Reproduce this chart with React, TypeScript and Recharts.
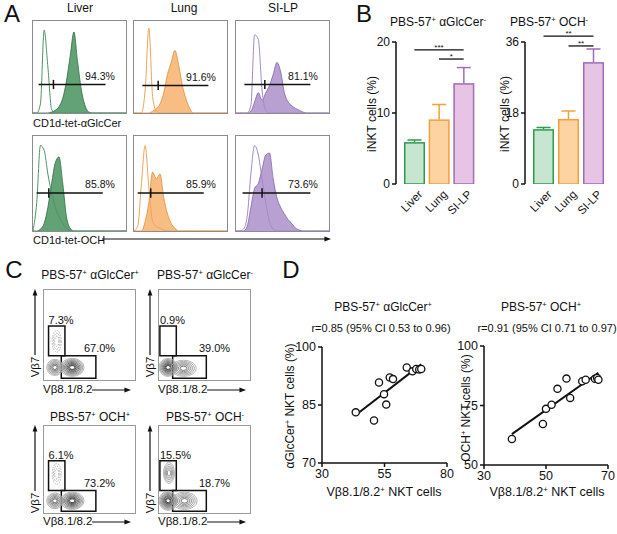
import React from 'react'
import {
  AreaChart, Area, BarChart, Bar, ScatterChart, Scatter, XAxis, YAxis,
  ReferenceLine, ReferenceDot, ReferenceArea,
} from 'recharts'

const FONT = '"Liberation Sans", Arial, Helvetica, sans-serif'

// ---------- A: tetramer histograms (x = fluorescence bin, y = % of max) ----------
const histBins = [0, 4, 8, 12, 16, 20, 24, 28, 32, 36, 40, 44, 48, 52, 56, 60, 64, 68, 72, 76, 80, 84, 88, 92, 96, 100]

const liverAgcOpen = [0, 0, 10, 90, 50, 4, 0, 0, 0, 0, 0, 0, 0, 0, 0, 0, 0, 0, 0, 0, 0, 0, 0, 0, 0, 0]
const liverAgcFill = [0, 0, 0, 0, 0, 1, 3, 7, 16, 35, 62, 88, 55, 25, 8, 1, 0, 0, 0, 0, 0, 0, 0, 0, 0, 0]
const lungAgcOpen = [0, 0, 0, 25, 92, 18, 2, 0, 0, 0, 0, 0, 0, 0, 0, 0, 0, 0, 0, 0, 0, 0, 0, 0, 0, 0]
const lungAgcFill = [0, 0, 0, 0, 0, 2, 5, 10, 22, 42, 55, 68, 52, 30, 15, 5, 0, 0, 0, 0, 0, 0, 0, 0, 0, 0]
const siAgcOpen = [0, 0, 0, 0, 8, 85, 80, 25, 3, 0, 0, 0, 0, 0, 0, 0, 0, 0, 0, 0, 0, 0, 0, 0, 0, 0]
const siAgcFill = [0, 0, 0, 0, 2, 12, 22, 14, 22, 30, 42, 55, 45, 22, 12, 8, 5, 3, 1, 0, 0, 0, 0, 0, 0, 0]

const liverOchOpen = [0, 30, 90, 85, 60, 40, 25, 15, 8, 3, 0, 0, 0, 0, 0, 0, 0, 0, 0, 0, 0, 0, 0, 0, 0, 0]
const liverOchFill = [0, 0, 2, 8, 25, 50, 72, 78, 50, 15, 3, 0, 0, 0, 0, 0, 0, 0, 0, 0, 0, 0, 0, 0, 0, 0]
const lungOchOpen = [0, 5, 50, 90, 45, 10, 5, 3, 1, 0, 0, 0, 0, 0, 0, 0, 0, 0, 0, 0, 0, 0, 0, 0, 0, 0]
const lungOchFill = [0, 0, 0, 10, 30, 62, 55, 60, 35, 18, 8, 3, 0, 0, 0, 0, 0, 0, 0, 0, 0, 0, 0, 0, 0, 0]
const siOchOpen = [0, 0, 2, 15, 60, 90, 80, 55, 30, 10, 2, 0, 0, 0, 0, 0, 0, 0, 0, 0, 0, 0, 0, 0, 0, 0]
const siOchFill = [0, 0, 0, 5, 25, 45, 50, 65, 80, 82, 55, 35, 25, 18, 12, 8, 3, 1, 0, 0, 0, 0, 0, 0, 0, 0]

// gate: [from, to, marker, level]
const agcGates = [[6, 78, 22, 31], [9, 80, 26, 30], [9, 80, 31, 31]]
const agcPct = ['94.3%', '91.6%', '81.1%']
const ochGates = [[4, 75, 17, 40], [4, 75, 18, 40], [7, 80, 28, 40]]
const ochPct = ['85.8%', '85.9%', '73.6%']

// ---------- B: bars ----------
const organs = ['Liver', 'Lung', 'SI-LP']
const agcNeg = [5.9, 9.1, 14.2]
const agcNegSem = [0.3, 2.1, 2.2]
const ochNeg = [13.9, 16.5, 30.9]
const ochNegSem = [0.4, 2.0, 3.3]

// ---------- C: Vb7 vs Vb8 contour populations (centre, spread, density) ----------
const contAgcPos = [
  { x: 14, y: 43, sx: 5, sy: 12, levels: 3, dens: 0.2, dotted: true },
  { x: 12, y: 14, sx: 9, sy: 9, levels: 6, dens: 0.6 },
  { x: 31, y: 14, sx: 13, sy: 10, levels: 8, dens: 1 },
]
const contAgcNeg = [
  { x: 10, y: 14, sx: 10, sy: 10, levels: 8, dens: 1 },
  { x: 27, y: 13, sx: 14, sy: 9, levels: 6, dens: 0.45 },
]
const contOchPos = [
  { x: 14, y: 45, sx: 5, sy: 12, levels: 3, dens: 0.2, dotted: true },
  { x: 12, y: 14, sx: 9, sy: 9, levels: 6, dens: 0.6 },
  { x: 31, y: 14, sx: 13, sy: 10, levels: 8, dens: 1 },
]
const contOchNeg = [
  { x: 11, y: 46, sx: 6, sy: 12, levels: 5, dens: 0.3 },
  { x: 10, y: 14, sx: 10, sy: 11, levels: 8, dens: 1 },
  { x: 28, y: 14, sx: 14, sy: 10, levels: 6, dens: 0.45 },
]
const cPctSmall = ['7.3%', '0.9%', '6.1%', '15.5%']
const cPctBig = ['67.0%', '39.0%', '73.2%', '18.7%']

// ---------- D: correlations ----------
const vb8AgcPos = [43.5, 50.8, 52.8, 54.8, 55.7, 57.1, 58.4, 63.9, 66.2, 67.7, 68.9, 69.7]
const agcPosPct = [83.1, 81.0, 90.8, 87.8, 85.1, 92.1, 91.7, 94.7, 93.7, 94.3, 94.2, 94.3]
const vb8OchPos = [39.0, 49.0, 50.0, 51.8, 53.7, 56.6, 57.8, 61.7, 62.8, 65.8, 66.5, 66.9]
const ochPosPct = [60.9, 67.2, 73.6, 75.3, 82.0, 86.3, 78.2, 85.2, 85.8, 86.2, 86.6, 85.8]

const colors = {
  Liver: { hist: '#62a275', histEdge: '#2f6b44', open: '#4f9467', bar: '#c6e6cf', barEdge: '#2e9a4e' },
  Lung: { hist: '#f8bd82', histEdge: '#e28a35', open: '#f0a458', bar: '#fdd3a2', barEdge: '#f2a03c' },
  'SI-LP': { hist: '#b8a0d3', histEdge: '#7e64a3', open: '#a38ac4', bar: '#e7c3e4', barEdge: '#9d6cba' },
} as any

const Sup = ({ c }: { c: string }) => (
  <span style={{ fontSize: '0.62em', position: 'relative', top: '-0.55em' }}>{c}</span>
)

function T({ x, y, size = 12, children, anchor = 'middle', rot = 0 }: any) {
  const tx = anchor === 'middle' ? '-50%' : anchor === 'end' ? '-100%' : '0'
  return (
    <div style={{
      position: 'absolute', left: x, top: y, transform: `translate(${tx},-50%) rotate(${rot}deg)`,
      fontSize: size, whiteSpace: 'nowrap', lineHeight: 1, color: '#111',
    }}>{children}</div>
  )
}

function Arrow({ x1, y1, x2, y2 }: any) {
  const left = Math.min(x1, x2) - 6, top = Math.min(y1, y2) - 6
  const w = Math.abs(x2 - x1) + 12, h = Math.abs(y2 - y1) + 12
  const ang = Math.atan2(y2 - y1, x2 - x1)
  const hx = x2 - left, hy = y2 - top
  const p = (a: number) => `${hx - 7 * Math.cos(ang + a)},${hy - 7 * Math.sin(ang + a)}`
  return (
    <svg style={{ position: 'absolute', left, top }} width={w} height={h}>
      <line x1={x1 - left} y1={y1 - top} x2={hx - 5 * Math.cos(ang)} y2={hy - 5 * Math.sin(ang)} stroke="#111" strokeWidth={1.2} />
      <polygon points={`${hx},${hy} ${p(0.35)} ${p(-0.35)}`} fill="#111" />
    </svg>
  )
}

function Histo({ left, top, w, h, organ, open, filled, gate, pct }: any) {
  const c = colors[organ]
  const data = histBins.map((x, i) => ({ x, open: open[i], filled: filled[i] }))
  const [g0, g1, gm, gy] = gate
  return (
    <div style={{ position: 'absolute', left, top, width: w, height: h, border: '1px solid #8c8c8c', boxSizing: 'border-box' }}>
      <AreaChart width={w - 2} height={h - 2} data={data} margin={{ top: 0, right: 0, bottom: 0, left: 0 }}>
        <XAxis dataKey="x" type="number" domain={[0, 100]} hide />
        <YAxis type="number" domain={[0, 100]} hide allowDataOverflow />
        <Area type="monotone" dataKey="filled" stroke={c.histEdge} strokeWidth={0.8} fill={c.hist} fillOpacity={1} isAnimationActive={false} />
        <Area type="monotone" dataKey="open" stroke={c.open} strokeWidth={1} fill="none" fillOpacity={0} isAnimationActive={false} />
        <ReferenceLine segment={[{ x: g0, y: gy }, { x: g1, y: gy }]} stroke="#111" strokeWidth={1.5} />
        <ReferenceLine segment={[{ x: gm, y: gy - 5 }, { x: gm, y: gy + 5 }]} stroke="#111" strokeWidth={1.5} />
        <ReferenceDot x={72} y={gy + 9} r={0} stroke="none" fill="none"
          label={{ value: pct, position: 'center', fontSize: 10.5, fill: '#111', fontFamily: FONT }} />
      </AreaChart>
    </div>
  )
}

function BarWithErr(props: any) {
  const { x, y, width, height, payload } = props
  const c = colors[payload.name]
  const ppu = height / payload.v
  const top = y - payload.sem * ppu
  const cx = x + width / 2
  return (
    <g>
      <line x1={cx} x2={cx} y1={y} y2={top} stroke={c.barEdge} strokeWidth={1.5} />
      <line x1={cx - 7} x2={cx + 7} y1={top} y2={top} stroke={c.barEdge} strokeWidth={1.5} />
      <rect x={x + 0.75} y={y + 0.75} width={width - 1.5} height={Math.max(height - 0.75, 0)} fill={c.bar} stroke={c.barEdge} strokeWidth={1.5} />
    </g>
  )
}

const SlantTick = (props: any) => {
  const { x, y, payload } = props
  const ax = x + 9, ay = y + 9
  return (
    <text x={ax} y={ay} textAnchor="end" transform={`rotate(-45 ${ax} ${ay})`} fontSize={11.5} fill="#111" fontFamily={FONT}>
      {payload.value}
    </text>
  )
}

function BarPanel({ left, w, vals, sems, max, sig }: any) {
  const data = organs.map((name, i) => ({ name, v: vals[i], sem: sems[i] }))
  return (
    <div style={{ position: 'absolute', left, top: 0 }}>
      <BarChart width={w} height={230} data={data} margin={{ top: 42, right: w === 135 ? 7 : 9, bottom: 6, left: 0 }} barCategoryGap={2}>
        <XAxis dataKey="name" axisLine={false} tickLine={false} tickSize={0} height={40} interval={0} tick={<SlantTick />} padding={{ left: 6, right: 2 }} />
        <YAxis width={w === 135 ? 46 : 45} domain={[0, max]} ticks={[0, max / 2, max]} tickSize={4}
          axisLine={{ stroke: '#111', strokeWidth: 1.5 }} tickLine={{ stroke: '#111', strokeWidth: 1.5 }}
          tick={{ fontSize: 12, fill: '#111', fontFamily: FONT }} allowDataOverflow />
        <Bar dataKey="v" shape={<BarWithErr />} isAnimationActive={false} />
        {sig.map((s: any, i: number) => (
          <ReferenceLine key={i} segment={[{ x: s.from, y: s.y }, { x: 'SI-LP', y: s.y }]} stroke="#111" strokeWidth={1.3} ifOverflow="visible"
            label={{ value: s.stars, position: 'top', fontSize: 8, fill: '#111', offset: 0 }} />
        ))}
      </BarChart>
    </div>
  )
}

function ContourShape(pxX: number, pxY: number) {
  return (p: any) => {
    const { cx, cy, payload } = p
    const rings = []
    for (let i = 0; i < payload.levels; i++) {
      const f = 1 - i / (payload.levels + 0.8)
      const g = Math.round(175 - (i / payload.levels) * 140 * payload.dens)
      rings.push(
        <ellipse key={i} cx={cx} cy={cy} rx={payload.sx * pxX * f} ry={payload.sy * pxY * f}
          fill={payload.dotted ? 'none' : `rgba(60,60,60,${0.05 * payload.dens})`}
          stroke={`rgb(${g},${g},${g})`} strokeWidth={0.9}
          strokeDasharray={payload.dotted ? '1.5 1.2' : undefined} />
      )
    }
    if (!payload.dotted) {
      rings.push(<ellipse key="core" cx={cx} cy={cy} rx={payload.sx * pxX * 0.18} ry={payload.sy * pxY * 0.14} fill="#fff" stroke="none" />)
    }
    return <g>{rings}</g>
  }
}

function ContourPlot({ left, top, h, pops, small, big, smallPct, bigPct }: any) {
  const w = 93
  const pw = w - 2, ph = h - 2
  return (
    <div style={{ position: 'absolute', left, top, width: w, height: h, border: '1px solid #9a9a9a', boxSizing: 'border-box' }}>
      <ScatterChart width={pw} height={ph} margin={{ top: 0, right: 0, bottom: 0, left: 0 }}>
        <XAxis dataKey="x" type="number" domain={[0, 100]} hide />
        <YAxis dataKey="y" type="number" domain={[0, 100]} hide />
        <Scatter data={pops} shape={ContourShape(pw / 100, ph / 100)} isAnimationActive={false} />
        <ReferenceArea x1={small[0]} x2={small[1]} y1={small[2]} y2={small[3]} stroke="#111" strokeWidth={1.5} fill="none" fillOpacity={0} />
        <ReferenceArea x1={big[0]} x2={big[1]} y1={big[2]} y2={big[3]} stroke="#111" strokeWidth={1.5} fill="none" fillOpacity={0} />
        <ReferenceDot x={small[0]} y={small[3] + 7} r={0} stroke="none" fill="none"
          label={{ value: smallPct, position: 'right', offset: 0, fontSize: 11, fill: '#111', fontFamily: FONT }} />
        <ReferenceDot x={61} y={big[3] + 8} r={0} stroke="none" fill="none"
          label={{ value: bigPct, position: 'center', fontSize: 11, fill: '#111', fontFamily: FONT }} />
      </ScatterChart>
    </div>
  )
}

function fitLine(xs: number[], ys: number[]) {
  const n = xs.length
  const mx = xs.reduce((a, b) => a + b, 0) / n
  const my = ys.reduce((a, b) => a + b, 0) / n
  let sxy = 0, sxx = 0
  xs.forEach((x, i) => { sxy += (x - mx) * (ys[i] - my); sxx += (x - mx) * (x - mx) })
  const b = sxy / sxx, a = my - b * mx
  const x0 = Math.min(...xs), x1 = Math.max(...xs)
  return [{ x: x0, y: a + b * x0 }, { x: x1, y: a + b * x1 }]
}

const Ring = (p: any) => <circle cx={p.cx} cy={p.cy} r={3.6} fill="#fff" stroke="#111" strokeWidth={1.3} />

function CorrPlot({ left, w, yw, top, bottom, right, xs, ys, xDom, xTicks, yDom, yTicks }: any) {
  const pts = xs.map((x: number, i: number) => ({ x, y: ys[i] }))
  const ln = fitLine(xs, ys)
  const ax = { stroke: '#111', strokeWidth: 1.5 }
  const tk = { fontSize: 12.5, fill: '#111', fontFamily: FONT }
  return (
    <div style={{ position: 'absolute', left, top: 330 }}>
      <ScatterChart width={w} height={170} margin={{ top, right, bottom, left: 0 }}>
        <XAxis dataKey="x" type="number" domain={xDom} ticks={xTicks} height={22} tickSize={4} axisLine={ax} tickLine={ax} tick={tk} />
        <YAxis dataKey="y" type="number" domain={yDom} ticks={yTicks} width={yw} tickSize={4} axisLine={ax} tickLine={ax} tick={tk} />
        <ReferenceLine segment={ln} stroke="#111" strokeWidth={2} />
        <Scatter data={pts} shape={Ring} isAnimationActive={false} />
      </ScatterChart>
    </div>
  )
}

export default function App() {
  const colX = [32, 133, 235]
  const histW = 95
  return (
    <div style={{ position: 'absolute', left: 0, top: 0, width: 617, height: 534, background: '#fff', fontFamily: FONT, color: '#111', overflow: 'hidden' }}>
      {/* A */}
      <T x={12} y={14} size={24}>A</T>
      <T x={80} y={8}>Liver</T>
      <T x={184} y={8}>Lung</T>
      <T x={283} y={8}>SI-LP</T>
      {organs.map((o, i) => (
        <Histo key={'a' + o} left={colX[i]} top={20} w={histW} h={94} organ={o}
          open={[liverAgcOpen, lungAgcOpen, siAgcOpen][i]} filled={[liverAgcFill, lungAgcFill, siAgcFill][i]}
          gate={agcGates[i]} pct={agcPct[i]} />
      ))}
      <T x={33} y={123} size={11} anchor="start">CD1d-tet-αGlcCer</T>
      {organs.map((o, i) => (
        <Histo key={'o' + o} left={colX[i]} top={135} w={histW} h={97} organ={o}
          open={[liverOchOpen, lungOchOpen, siOchOpen][i]} filled={[liverOchFill, lungOchFill, siOchFill][i]}
          gate={ochGates[i]} pct={ochPct[i]} />
      ))}
      <T x={33} y={240} size={11} anchor="start">CD1d-tet-OCH</T>
      <Arrow x1={102} y1={239} x2={331} y2={239} />

      {/* B */}
      <T x={364} y={14} size={24}>B</T>
      <T x={438} y={22}>PBS-57<Sup c="+" /> αGlcCer<Sup c="-" /></T>
      <T x={549} y={22}>PBS-57<Sup c="+" /> OCH<Sup c="-" /></T>
      <T x={372} y={114} rot={-90}>iNKT cells (%)</T>
      <T x={505} y={114} rot={-90}>iNKT cells (%)</T>
      <BarPanel left={350} w={135} vals={agcNeg} sems={agcNegSem} max={20}
        sig={[{ from: 'Liver', y: 18.9, stars: '***' }, { from: 'Lung', y: 17.6, stars: '*' }]} />
      <BarPanel left={480} w={137} vals={ochNeg} sems={ochNegSem} max={36}
        sig={[{ from: 'Liver', y: 37.5, stars: '**' }, { from: 'Lung', y: 35.0, stars: '**' }]} />

      {/* C */}
      <T x={14} y={270} size={24}>C</T>
      <T x={90} y={275}>PBS-57<Sup c="+" /> αGlcCer<Sup c="+" /></T>
      <T x={205} y={275}>PBS-57<Sup c="+" /> αGlcCer<Sup c="-" /></T>
      <T x={90} y={417}>PBS-57<Sup c="+" /> OCH<Sup c="+" /></T>
      <T x={205} y={417}>PBS-57<Sup c="+" /> OCH<Sup c="-" /></T>
      <ContourPlot left={43} top={289} h={92} pops={contAgcPos} small={[5, 23, 27, 60]} big={[19, 57, 2, 27]} smallPct={cPctSmall[0]} bigPct={cPctBig[0]} />
      <ContourPlot left={158} top={289} h={92} pops={contAgcNeg} small={[1, 19, 27, 60]} big={[15, 52, 2, 27]} smallPct={cPctSmall[1]} bigPct={cPctBig[1]} />
      <ContourPlot left={43} top={425} h={89} pops={contOchPos} small={[5, 23, 26, 60]} big={[19, 57, 2, 26]} smallPct={cPctSmall[2]} bigPct={cPctBig[2]} />
      <ContourPlot left={158} top={425} h={89} pops={contOchNeg} small={[1, 19, 26, 60]} big={[15, 52, 2, 26]} smallPct={cPctSmall[3]} bigPct={cPctBig[3]} />
      {[[35, 289, 390], [150, 289, 390], [35, 425, 522], [150, 425, 522]].map(([ax, top, ly], i) => (
        <React.Fragment key={'c' + i}>
          <Arrow x1={ax} y1={top + 66} x2={ax} y2={top} />
          <T x={ax + 1} y={top + 78} size={11.5} rot={-90}>Vβ7</T>
          <T x={ax + 8} y={ly} size={11.5} anchor="start">Vβ8.1/8.2</T>
          <Arrow x1={ax + 57} y1={ly} x2={ax + 96} y2={ly} />
        </React.Fragment>
      ))}

      {/* D */}
      <T x={291} y={270} size={24}>D</T>
      <T x={383} y={307}>PBS-57<Sup c="+" /> αGlcCer<Sup c="+" /></T>
      <T x={541} y={307}>PBS-57<Sup c="+" /> OCH<Sup c="+" /></T>
      <T x={381} y={328} size={11}>r=0.85 (95% CI 0.53 to 0.96)</T>
      <T x={547} y={328} size={11}>r=0.91 (95% CI 0.71 to 0.97)</T>
      <T x={290} y={406} size={12} rot={-90}>αGlcCer<Sup c="+" /> NKT cells (%)</T>
      <T x={466} y={408} size={12} rot={-90}>OCH<Sup c="+" /> NKT cells (%)</T>
      <T x={384} y={492} size={12.5}>Vβ8.1/8.2<Sup c="+" /> NKT cells</T>
      <T x={547} y={492} size={12.5}>Vβ8.1/8.2<Sup c="+" /> NKT cells</T>
      <CorrPlot left={280} w={175} yw={42} top={17} bottom={15} right={8} xs={vb8AgcPos} ys={agcPosPct}
        xDom={[30, 80]} xTicks={[30, 55, 80]} yDom={[70, 100]} yTicks={[70, 85, 100]} />
      <CorrPlot left={440} w={177} yw={44} top={16} bottom={13} right={9} xs={vb8OchPos} ys={ochPosPct}
        xDom={[30, 70]} xTicks={[30, 50, 70]} yDom={[50, 100]} yTicks={[50, 75, 100]} />
    </div>
  )
}
